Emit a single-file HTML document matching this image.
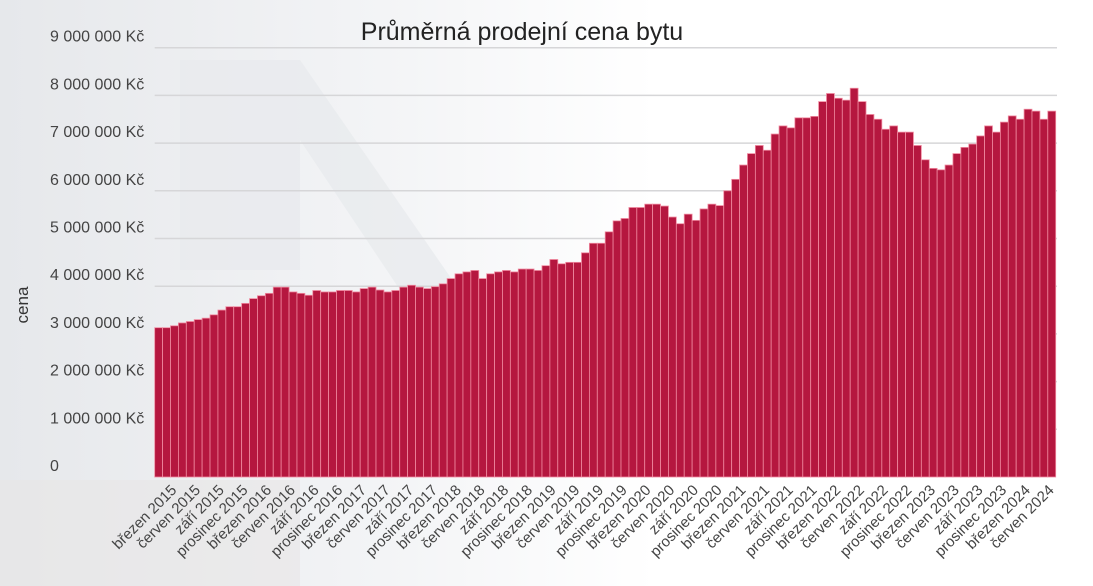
<!DOCTYPE html>
<html><head><meta charset="utf-8">
<style>
html,body{margin:0;padding:0;background:#fff;}
svg{display:block;font-family:"Liberation Sans",sans-serif;}
</style></head>
<body>
<svg id="chart" width="1093" height="586" viewBox="0 0 1093 586" xmlns="http://www.w3.org/2000/svg">
  <defs>
    <linearGradient id="bgg" x1="0" y1="0" x2="1" y2="0">
      <stop offset="0" stop-color="#e6e8eb"/>
      <stop offset="0.35" stop-color="#f3f4f6"/>
      <stop offset="0.6" stop-color="#ffffff"/>
      <stop offset="1" stop-color="#ffffff"/>
    </linearGradient>
  </defs>
  <g>
    <rect x="0" y="0" width="1093" height="586" fill="url(#bgg)"/>
    <rect x="180" y="60" width="120" height="210" fill="#e9eaed" opacity="0.8"/>
    <polygon points="300,60 480,320 420,320 300,140" fill="#e7e9ed" opacity="0.7"/>
    <rect x="0" y="480" width="300" height="106" fill="#e8e6e6" opacity="0.6"/>
  </g>
  <text x="522" y="40" text-anchor="middle" font-size="25" fill="#222">Průměrná prodejní cena bytu</text>
  <text transform="translate(28,305) rotate(-90)" text-anchor="middle" font-size="17" fill="#333">cena</text>
  <g id="grid"></g>
  <g id="ylabels"></g>
  <g id="bars"></g>
  <g id="xlabels"></g>
</svg>
<script>
const months = ["leden","únor","březen","duben","květen","červen","červenec","srpen","září","říjen","listopad","prosinec"];
const startYear = 2015;
const values = [
3.13,3.13,3.17,3.23,3.26,3.30,3.33,3.40,3.50,3.57,3.57,3.64,
3.74,3.80,3.85,3.98,3.98,3.88,3.85,3.81,3.91,3.88,3.88,3.91,
3.91,3.88,3.95,3.98,3.92,3.88,3.91,3.98,4.02,3.98,3.95,3.99,
4.05,4.16,4.26,4.30,4.33,4.16,4.26,4.30,4.33,4.30,4.36,4.36,
4.33,4.43,4.56,4.47,4.50,4.50,4.70,4.90,4.90,5.14,5.37,5.42,
5.65,5.65,5.72,5.72,5.68,5.45,5.31,5.51,5.38,5.62,5.72,5.69,
6.00,6.24,6.54,6.78,6.95,6.85,7.19,7.36,7.32,7.53,7.53,7.56,
7.87,8.04,7.94,7.90,8.15,7.87,7.60,7.50,7.29,7.36,7.23,7.23,
6.95,6.65,6.47,6.44,6.54,6.78,6.91,6.98,7.15,7.36,7.23,7.44,
7.57,7.50,7.71,7.67,7.50,7.67];
const yTicks = [0,1,2,3,4,5,6,7,8,9];
const yTickLabels = ["0","1 000 000 Kč","2 000 000 Kč","3 000 000 Kč","4 000 000 Kč","5 000 000 Kč","6 000 000 Kč","7 000 000 Kč","8 000 000 Kč","9 000 000 Kč"];

const NS="http://www.w3.org/2000/svg";
const x0=154.7, x1=1055.7, y0=477, pxPerM=47.7;
const bw=(x1-x0)/values.length;
const yS=v=>y0-v*pxPerM;
const xS=i=>x0+i*bw;

const grid=document.getElementById('grid'), yl=document.getElementById('ylabels');
yTicks.forEach((t,k)=>{
  if(t>0){
    const l=document.createElementNS(NS,'line');
    l.setAttribute('x1',x0);l.setAttribute('x2',1057);
    l.setAttribute('y1',yS(t));l.setAttribute('y2',yS(t));
    l.setAttribute('stroke','#d6d6d8');l.setAttribute('stroke-width','1.5');
    
    
    grid.appendChild(l);
  }
  const tx=document.createElementNS(NS,'text');
  tx.setAttribute('x',50);tx.setAttribute('y',yS(t)-6);
  tx.setAttribute('font-size','16');tx.setAttribute('fill','#444');
  tx.textContent=yTickLabels[k];
  
  
  yl.appendChild(tx);
});

const bars=document.getElementById('bars'), xl=document.getElementById('xlabels');
values.forEach((v,i)=>{
  const r=document.createElementNS(NS,'rect');
  r.setAttribute('x',xS(i));r.setAttribute('width',bw);
  r.setAttribute('y',yS(v));r.setAttribute('height',y0-yS(v));
  r.setAttribute('fill','#b5173f');r.setAttribute('stroke','#f08aa0');r.setAttribute('stroke-width','0.8');
  
  
  bars.appendChild(r);
  if(i%3===2){
    const m=i%12, yr=startYear+Math.floor(i/12);
    const cx=xS(i)+bw/2;
    const t=document.createElementNS(NS,'text');
    t.setAttribute('transform','translate('+(cx+3)+',491) rotate(-45)');
    t.setAttribute('text-anchor','end');t.setAttribute('font-size','15');t.setAttribute('fill','#444');
    t.textContent=months[m]+' '+yr;
    
    
    xl.appendChild(t);
  }
});
</script>
</body></html>
